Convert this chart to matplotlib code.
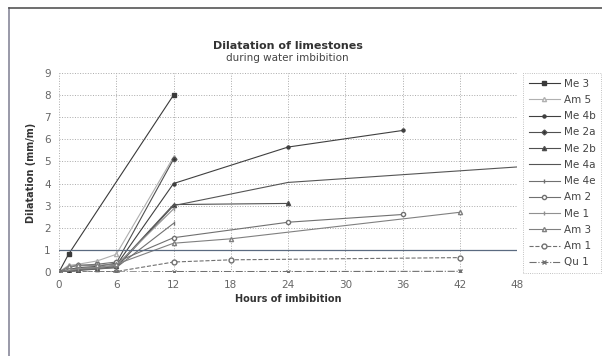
import numpy as np
import matplotlib.pyplot as plt
from matplotlib.lines import Line2D

# Data (hours, dilatation mm/m)
me3_x = [0, 1, 12]
me3_y = [0, 0.8, 8.0]
am5_x = [0, 1, 2, 4, 6, 12]
am5_y = [0, 0.3, 0.35, 0.5, 0.8, 5.2]
me4b_x = [0, 1, 2, 4, 6, 12, 24, 36]
me4b_y = [0, 0.1, 0.15, 0.2, 0.3, 4.0, 5.65, 6.4]
me2a_x = [0, 1, 2, 4, 6, 12]
me2a_y = [0, 0.1, 0.2, 0.25, 0.4, 5.1]
me2b_x = [0, 1, 2, 4, 6, 12, 24]
me2b_y = [0, 0.05, 0.1, 0.15, 0.25, 3.05, 3.1]
me4a_x = [0, 6, 12, 24, 48]
me4a_y = [0, 0.2, 3.0, 4.05, 4.75]
me4e_x = [0, 2, 4, 6, 12]
me4e_y = [0, 0.1, 0.15, 0.2, 2.2]
am2_x = [0, 1, 2, 4, 6, 12, 24, 36]
am2_y = [0, 0.2, 0.3, 0.35, 0.45, 1.55, 2.25, 2.6]
me1_x = [0, 2, 4, 6, 12]
me1_y = [0, 0.15, 0.2, 0.3, 2.85]
am3_x = [0, 1, 2, 4, 6, 12, 18, 42]
am3_y = [0, 0.25, 0.3, 0.3, 0.35, 1.3, 1.5, 2.7]
am1_x = [0, 6, 12, 18, 42]
am1_y = [0, 0.02, 0.45, 0.55, 0.65]
qu1_x = [0, 6, 12, 24, 42]
qu1_y = [0, 0.0, 0.02, 0.02, 0.03]

series = [
    ("Me 3", me3_x, me3_y, dict(color="#3a3a3a", marker="s", ms=3.5, mfc="#3a3a3a", ls="-")),
    ("Am 5", am5_x, am5_y, dict(color="#b0b0b0", marker="^", ms=3, mfc="white", ls="-")),
    ("Me 4b", me4b_x, me4b_y, dict(color="#404040", marker="o", ms=2.2, mfc="#404040", ls="-")),
    ("Me 2a", me2a_x, me2a_y, dict(color="#505050", marker="D", ms=2.5, mfc="#303030", ls="-")),
    ("Me 2b", me2b_x, me2b_y, dict(color="#505050", marker="^", ms=3, mfc="#303030", ls="-")),
    ("Me 4a", me4a_x, me4a_y, dict(color="#555555", marker="", ls="-")),
    ("Me 4e", me4e_x, me4e_y, dict(color="#707070", marker="|", ms=2.5, ls="-")),
    ("Am 2", am2_x, am2_y, dict(color="#707070", marker="o", ms=3, mfc="white", ls="-")),
    ("Me 1", me1_x, me1_y, dict(color="#909090", marker="|", ms=2.5, ls="-")),
    ("Am 3", am3_x, am3_y, dict(color="#808080", marker="^", ms=3, mfc="white", ls="-")),
    ("Am 1", am1_x, am1_y, dict(color="#707070", marker="o", ms=3.5, mfc="white", ls="--")),
    ("Qu 1", qu1_x, qu1_y, dict(color="#707070", marker="x", ms=2.5, ls="-.")),
]

fig = plt.figure(figsize=(6.02, 3.56), dpi=100)
ax = fig.add_axes([0.098, 0.236, 0.761, 0.559])

for name, x, y, st in series:
    ax.plot(x, y, lw=0.8, label=name, **st)

# reference line at 1 mm/m
ax.axhline(1, color="#5a6a80", lw=0.9)

ax.set_xlim(0, 48)
ax.set_ylim(0, 9)
ax.set_xticks(range(0, 49, 6))
ax.set_yticks(range(0, 10))
ax.grid(True, color="#aaaaaa", ls=":", lw=0.7)
for s in ax.spines.values():
    s.set_visible(False)
ax.tick_params(length=0, labelsize=7.5, colors="#666666", pad=6)
ax.set_xlabel("Hours of imbibition", fontsize=7, fontweight="bold", color="#333333", labelpad=3)
ax.set_ylabel("Dilatation (mm/m)", fontsize=7, fontweight="bold", color="#333333", labelpad=6)

fig.text(0.478, 0.862, "Dilatation of limestones", ha="center", fontsize=8,
         fontweight="bold", color="#333333")
fig.text(0.478, 0.828, "during water imbibition", ha="center", fontsize=7.5, color="#444444")

leg = ax.legend(loc="upper left", bbox_to_anchor=(1.013, 1.0), borderaxespad=0, fontsize=7.5,
                frameon=True, fancybox=False, edgecolor="#999999", handlelength=3.0,
                labelspacing=0.6, borderpad=0.55, handletextpad=0.35, labelcolor="#444444")
leg.get_frame().set_linewidth(0.6)
leg.get_frame().set_linestyle(":")

# figure frame (left and top edges)
fig.add_artist(Line2D([0.015, 0.015], [0.0, 0.978], color="#888899", lw=1.2))
fig.add_artist(Line2D([0.015, 1.0], [0.978, 0.978], color="#555555", lw=1.2))

fig.savefig("out.png", dpi=100, facecolor="white")
